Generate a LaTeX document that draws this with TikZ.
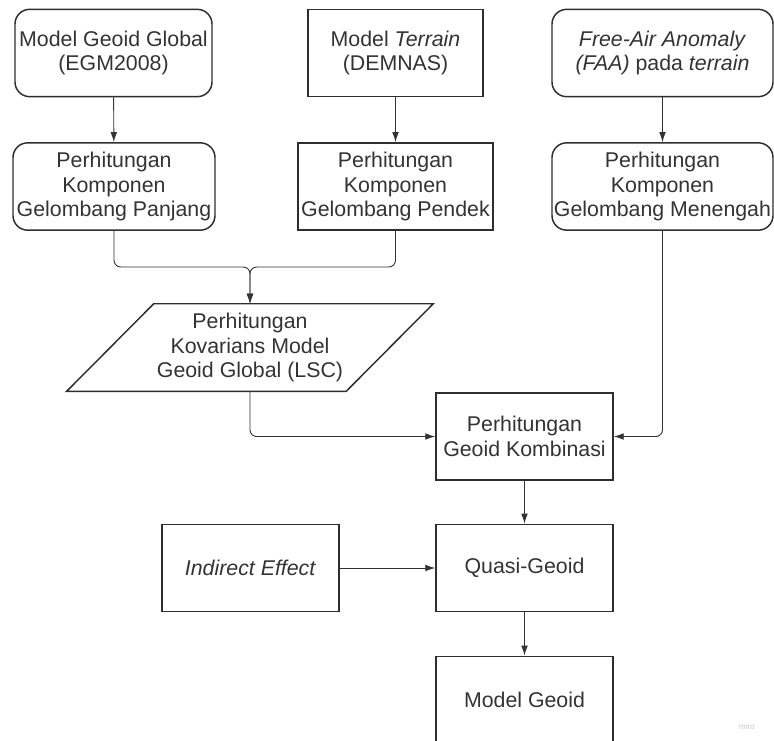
\documentclass[tikz,border=0pt]{standalone}
\usepackage{fontspec}
\setmainfont{Liberation Sans}
\usetikzlibrary{arrows.meta}
\definecolor{ink}{HTML}{333333}
\definecolor{edge}{HTML}{2E2E2E}
\begin{document}
\begin{tikzpicture}[x=0.75pt,y=-0.75pt,
  every node/.style={font=\fontsize{16}{18.3}\selectfont, text=ink, align=center, inner sep=0pt},
  box/.style={draw=edge, line width=1.1pt, minimum height=65.5pt},
  rbox/.style={box, rounded corners=11pt},
  conn/.style={draw=ink, line width=0.7pt},
  arr/.style={conn, -{Latex[length=7.5pt,width=5pt]}},
]
\useasboundingbox (0,0) rectangle (774,740);

% row 1
\node[rbox, minimum width=147.75pt] (a1) at (113.5,53) {Model Geoid Global\\(EGM2008)};
\node[box, minimum width=131.25pt] (a2) at (395.5,53) {Model \textit{Terrain}\\(DEMNAS)};
\node[rbox, minimum width=165.75pt] (a3) at (662.5,53) {\textit{Free-Air Anomaly}\\\textit{(FAA)} pada \textit{terrain}};

% row 2
\node[rbox, minimum width=151.5pt] (b1) at (114,186.5) {Perhitungan\\Komponen\\Gelombang Panjang};
\node[box, minimum width=146.25pt] (b2) at (395.5,186.5) {Perhitungan\\Komponen\\Gelombang Pendek};
\node[rbox, minimum width=165.75pt] (b3) at (662.5,186.5) {Perhitungan\\Komponen\\Gelombang Menengah};

% parallelogram
\node[minimum width=274.5pt, minimum height=65.25pt] (lsc) at (250,347.5) {Perhitungan\\Kovarians Model\\Geoid Global (LSC)};
\draw[draw=edge, line width=1.1pt] ([xshift=65.25pt]lsc.north west) -- (lsc.north east)
  -- ([xshift=-65.25pt]lsc.south east) -- (lsc.south west) -- cycle;

% lower column
\node[box, minimum width=132.75pt] (c) at (524.5,436.5) {Perhitungan\\Geoid Kombinasi};
\node[box, minimum width=132.75pt] (q) at (524.5,568) {Quasi-Geoid};
\node[box, minimum width=132.75pt] (ie) at (250.5,568) {\textit{Indirect Effect}};
\node[box, minimum width=132.75pt] (m) at (524.5,700) {Model Geoid};

\node[font=\fontsize{6}{7}\selectfont, text=black!22] (miro) at (747,727) {miro};

% connectors
\draw[arr] (a1) -- (b1);
\draw[arr] (a2) -- (b2);
\draw[arr] (a3) -- (b3);
\coordinate (mrg) at (250,267);
\draw[arr, rounded corners=5pt] (b1.south) |- (mrg) -- (lsc.north);
\draw[arr, rounded corners=5pt] (b2.south) |- (mrg) -- (lsc.north);
\draw[arr, rounded corners=5pt] (lsc.south) |- (c.west);
\draw[arr, rounded corners=5pt] (b3.south) |- (c.east);
\draw[arr] (c) -- (q);
\draw[arr] (ie) -- (q);
\draw[arr] (q) -- (m);
\end{tikzpicture}
\end{document}
